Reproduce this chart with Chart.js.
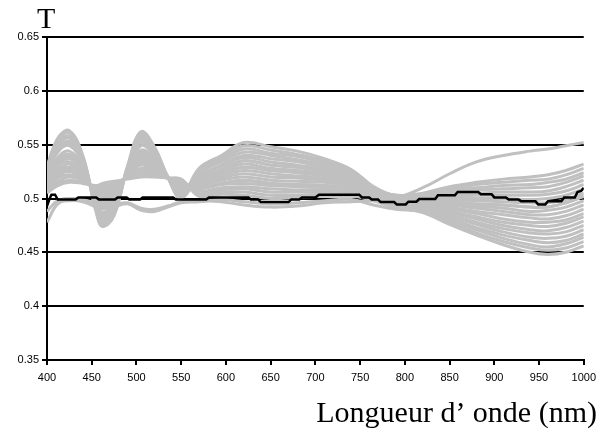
<!DOCTYPE html>
<html><head><meta charset="utf-8">
<script src="https://cdn.jsdelivr.net/npm/chart.js@4.4.0/dist/chart.umd.min.js"></script>
<style>html,body{margin:0;padding:0;background:#fff;}#wrap{width:602px;height:432px;}</style>
</head><body><div id="wrap"><canvas id="c" width="602" height="432"></canvas></div>
<script>
// wavelengths (nm) at which the grey curves were read
const wavelengths = [400,412,425,440,455,462,475,490,505,520,535,550,570,595,620,650,680,710,740,765,790,820,850,880,910,940,960,980,1000];
// grey curves (T values)
const grey01 = [0.530,0.556,0.563,0.540,0.487,0.474,0.484,0.530,0.562,0.548,0.520,0.500,0.527,0.538,0.549,0.545,0.541,0.535,0.526,0.509,0.501,0.497,0.495,0.493,0.491,0.488,0.489,0.492,0.498];
const grey02 = [0.528,0.552,0.558,0.537,0.490,0.478,0.487,0.529,0.558,0.545,0.520,0.502,0.528,0.540,0.552,0.548,0.544,0.537,0.527,0.511,0.502,0.500,0.501,0.500,0.500,0.499,0.500,0.503,0.509];
const grey03 = [0.526,0.549,0.556,0.536,0.491,0.480,0.489,0.528,0.556,0.544,0.520,0.503,0.524,0.534,0.543,0.540,0.536,0.531,0.523,0.507,0.498,0.494,0.490,0.486,0.481,0.478,0.478,0.480,0.486];
const grey04 = [0.524,0.545,0.551,0.534,0.493,0.484,0.492,0.527,0.552,0.541,0.520,0.505,0.525,0.536,0.546,0.542,0.539,0.533,0.524,0.507,0.496,0.491,0.483,0.476,0.469,0.464,0.463,0.465,0.471];
const grey05 = [0.523,0.543,0.549,0.532,0.495,0.486,0.494,0.526,0.549,0.540,0.520,0.505,0.521,0.530,0.538,0.534,0.531,0.527,0.520,0.509,0.503,0.502,0.506,0.508,0.509,0.510,0.511,0.515,0.521];
const grey06 = [0.520,0.538,0.544,0.530,0.497,0.490,0.497,0.525,0.545,0.537,0.520,0.507,0.522,0.531,0.540,0.537,0.534,0.529,0.521,0.507,0.499,0.496,0.494,0.491,0.488,0.485,0.485,0.488,0.494];
const grey07 = [0.519,0.536,0.541,0.528,0.498,0.492,0.498,0.525,0.543,0.535,0.519,0.508,0.517,0.525,0.532,0.528,0.526,0.523,0.517,0.503,0.493,0.489,0.480,0.471,0.463,0.457,0.455,0.458,0.464];
const grey08 = [0.518,0.534,0.539,0.527,0.500,0.494,0.500,0.524,0.541,0.534,0.520,0.509,0.519,0.527,0.535,0.531,0.529,0.525,0.518,0.505,0.496,0.492,0.487,0.481,0.475,0.471,0.470,0.473,0.479];
const grey09 = [0.516,0.532,0.537,0.526,0.501,0.496,0.502,0.523,0.539,0.533,0.519,0.510,0.514,0.521,0.526,0.523,0.521,0.519,0.514,0.505,0.500,0.499,0.499,0.498,0.497,0.496,0.496,0.499,0.505];
const grey10 = [0.515,0.530,0.534,0.524,0.502,0.498,0.503,0.523,0.537,0.531,0.519,0.511,0.516,0.523,0.529,0.526,0.524,0.521,0.515,0.501,0.492,0.487,0.476,0.466,0.457,0.450,0.448,0.450,0.456];
const grey11 = [0.514,0.527,0.532,0.523,0.503,0.500,0.505,0.522,0.535,0.530,0.519,0.512,0.512,0.517,0.520,0.517,0.516,0.515,0.511,0.502,0.496,0.495,0.492,0.488,0.485,0.482,0.481,0.484,0.490];
const grey12 = [0.513,0.525,0.529,0.522,0.505,0.502,0.506,0.522,0.533,0.528,0.519,0.513,0.513,0.519,0.523,0.520,0.519,0.517,0.512,0.505,0.503,0.503,0.508,0.510,0.512,0.513,0.515,0.518,0.524];
const grey13 = [0.511,0.523,0.527,0.521,0.506,0.504,0.508,0.521,0.531,0.527,0.519,0.514,0.509,0.513,0.514,0.512,0.511,0.510,0.508,0.500,0.494,0.492,0.485,0.478,0.472,0.468,0.467,0.469,0.475];
const grey14 = [0.510,0.521,0.525,0.519,0.507,0.506,0.510,0.520,0.528,0.526,0.519,0.514,0.510,0.514,0.517,0.514,0.513,0.512,0.509,0.503,0.498,0.498,0.497,0.495,0.494,0.492,0.492,0.496,0.502];
const grey15 = [0.509,0.519,0.522,0.518,0.508,0.508,0.511,0.520,0.526,0.524,0.519,0.515,0.506,0.508,0.509,0.506,0.506,0.506,0.505,0.498,0.492,0.490,0.481,0.473,0.466,0.461,0.459,0.461,0.467];
const grey16 = [0.508,0.516,0.520,0.517,0.510,0.510,0.513,0.519,0.524,0.523,0.519,0.516,0.507,0.510,0.511,0.509,0.508,0.508,0.506,0.502,0.500,0.501,0.502,0.503,0.503,0.503,0.504,0.507,0.513];
const grey17 = [0.506,0.514,0.517,0.515,0.511,0.512,0.514,0.519,0.522,0.521,0.519,0.517,0.504,0.506,0.506,0.503,0.503,0.504,0.503,0.498,0.494,0.493,0.488,0.483,0.478,0.475,0.474,0.477,0.483];
const grey18 = [0.505,0.512,0.515,0.514,0.512,0.514,0.516,0.518,0.520,0.520,0.519,0.518,0.502,0.504,0.503,0.500,0.501,0.502,0.502,0.501,0.502,0.505,0.511,0.515,0.518,0.520,0.522,0.526,0.532];
const grey19 = [0.478,0.495,0.498,0.497,0.492,0.487,0.492,0.495,0.489,0.488,0.492,0.496,0.497,0.499,0.497,0.495,0.496,0.498,0.499,0.494,0.490,0.488,0.478,0.468,0.460,0.454,0.452,0.454,0.460];
const grey20 = [0.488,0.498,0.500,0.499,0.495,0.491,0.494,0.496,0.491,0.490,0.493,0.497,0.498,0.497,0.494,0.492,0.493,0.496,0.497,0.498,0.499,0.501,0.504,0.505,0.506,0.506,0.507,0.511,0.517];
const grey21 = [0.513,0.525,0.529,0.522,0.505,0.502,0.506,0.522,0.533,0.528,0.519,0.513,0.510,0.514,0.517,0.514,0.513,0.512,0.509,0.503,0.501,0.510,0.523,0.534,0.540,0.544,0.546,0.549,0.552];
const grey22 = [0.529,0.554,0.561,0.539,0.488,0.476,0.486,0.529,0.560,0.547,0.520,0.501,0.519,0.527,0.535,0.531,0.529,0.525,0.518,0.509,0.503,0.504,0.509,0.513,0.515,0.517,0.518,0.522,0.528];
const grey23 = [0.525,0.547,0.553,0.535,0.492,0.482,0.490,0.528,0.554,0.542,0.520,0.504,0.516,0.523,0.529,0.526,0.524,0.521,0.515,0.505,0.499,0.498,0.497,0.495,0.494,0.492,0.492,0.496,0.502];
const greySeries = [grey01,grey02,grey03,grey04,grey05,grey06,grey07,grey08,grey09,grey10,grey11,grey12,grey13,grey14,grey15,grey16,grey17,grey18,grey19,grey20,grey21,grey22,grey23];

// black (mean) curve, stepped
const blackX = [400,403,405,409,412,432,435,455,458,476,479,489,492,504,507,541,544,578,581,625,628,636,639,670,673,682,685,700,704,749,752,760,763,770,773,788,791,801,804,813,816,834,837,856,859,882,885,897,900,913,916,927,930,946,949,957,960,975,978,990,993,997,1000];
const blackY = [0.493,0.500,0.5035,0.5035,0.499,0.499,0.501,0.501,0.499,0.499,0.501,0.501,0.499,0.499,0.501,0.501,0.499,0.499,0.501,0.501,0.499,0.499,0.4967,0.4967,0.499,0.499,0.501,0.501,0.5035,0.5035,0.501,0.501,0.499,0.499,0.4967,0.4967,0.4945,0.4945,0.497,0.497,0.4995,0.4995,0.503,0.503,0.506,0.506,0.504,0.504,0.501,0.501,0.499,0.499,0.4975,0.4975,0.4945,0.4945,0.4975,0.4975,0.501,0.501,0.506,0.507,0.510];

const xTicks = [400,450,500,550,600,650,700,750,800,850,900,950,1000];
const yTicks = [0.35,0.4,0.45,0.5,0.55,0.6,0.65];
const yTickLabels = ['0.35','0.4','0.45','0.5','0.55','0.6','0.65'];
const yTitle = 'T';
const xTitle = 'Longueur d’ onde (nm)';

const datasets = [{
  data: blackX.map((x,i)=>({x:x,y:blackY[i]})),
  borderColor:'#000', borderWidth:2.5, pointRadius:0, tension:0, order:0
}];
greySeries.forEach(s=>{
  datasets.push({data: wavelengths.map((x,i)=>({x:x,y:s[i]})), borderColor:'#c0c0c0', borderWidth:3, pointRadius:0, tension:0.4, order:1});
});

const titles = {
  id:'titles',
  afterDraw(chart){
    const ctx = chart.ctx;
    ctx.save();
    ctx.fillStyle = '#000';
    ctx.textBaseline = 'alphabetic';
    ctx.font = '30px "Liberation Serif"';
    ctx.textAlign = 'left';
    ctx.fillText(yTitle, 37, 28);
    ctx.textAlign = 'right';
    ctx.fillText(xTitle, 597, 422);
    ctx.restore();
  }
};

new Chart(document.getElementById('c'), {
  type:'line',
  data:{datasets},
  options:{
    responsive:false, animation:false, devicePixelRatio:1,
    layout:{padding:{left:0,top:37,right:17,bottom:42}},
    plugins:{legend:{display:false},tooltip:{enabled:false}},
    scales:{
      x:{type:'linear',min:400,max:1000,z:1,
        afterBuildTicks:(s)=>{s.ticks = xTicks.map(v=>({value:v}));},
        afterFit:(s)=>{s.height=30;},
        grid:{drawOnChartArea:false,drawTicks:true,tickLength:5,color:'#000',lineWidth:2},
        border:{display:true,color:'#000',width:2},
        ticks:{color:'#000',font:{family:'"Liberation Sans"',size:11},padding:6,maxRotation:0,autoSkip:false,
          callback:(v)=>String(v)}
      },
      y:{type:'linear',min:0.35,max:0.65,z:1,
        afterBuildTicks:(s)=>{s.ticks = yTicks.map(v=>({value:v}));},
        afterFit:(s)=>{s.width=47;},
        grid:{drawOnChartArea:true,drawTicks:true,tickLength:5,color:'#000',lineWidth:2},
        border:{display:true,color:'#000',width:2},
        ticks:{color:'#000',font:{family:'"Liberation Sans"',size:11},padding:3,
          callback:(v,i)=>yTickLabels[i]}
      }
    }
  },
  plugins:[titles]
});
</script></body></html>
